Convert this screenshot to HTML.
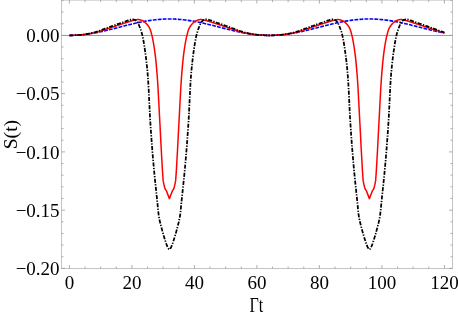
<!DOCTYPE html>
<html><head><meta charset="utf-8"><title>plot</title>
<style>
html,body{margin:0;padding:0;background:#fff;}
body{width:458px;height:316px;overflow:hidden;}
svg{display:block;}
.lbl{will-change:transform;}
text{font-family:"Liberation Serif",serif;font-size:19px;fill:#000;}
</style></head><body>
<svg width="458" height="316" viewBox="0 0 458 316">
<rect width="458" height="316" fill="#fff"/>
<g stroke="#c4c4c4" stroke-width="1" fill="none">
<rect x="61.5" y="0.1" width="391.0" height="268.4"/>
</g>
<line x1="61.5" y1="35.5" x2="452.5" y2="35.5" stroke="#9a9a9a" stroke-width="1"/>
<g stroke="#999" stroke-width="0.8" fill="none">
<line x1="69.40" y1="268.50" x2="69.40" y2="265.00"/>
<line x1="69.40" y1="0.10" x2="69.40" y2="3.60"/>
<line x1="85.03" y1="268.50" x2="85.03" y2="266.50"/>
<line x1="85.03" y1="0.10" x2="85.03" y2="2.10"/>
<line x1="100.65" y1="268.50" x2="100.65" y2="266.50"/>
<line x1="100.65" y1="0.10" x2="100.65" y2="2.10"/>
<line x1="116.28" y1="268.50" x2="116.28" y2="266.50"/>
<line x1="116.28" y1="0.10" x2="116.28" y2="2.10"/>
<line x1="131.90" y1="268.50" x2="131.90" y2="265.00"/>
<line x1="131.90" y1="0.10" x2="131.90" y2="3.60"/>
<line x1="147.53" y1="268.50" x2="147.53" y2="266.50"/>
<line x1="147.53" y1="0.10" x2="147.53" y2="2.10"/>
<line x1="163.15" y1="268.50" x2="163.15" y2="266.50"/>
<line x1="163.15" y1="0.10" x2="163.15" y2="2.10"/>
<line x1="178.78" y1="268.50" x2="178.78" y2="266.50"/>
<line x1="178.78" y1="0.10" x2="178.78" y2="2.10"/>
<line x1="194.40" y1="268.50" x2="194.40" y2="265.00"/>
<line x1="194.40" y1="0.10" x2="194.40" y2="3.60"/>
<line x1="210.03" y1="268.50" x2="210.03" y2="266.50"/>
<line x1="210.03" y1="0.10" x2="210.03" y2="2.10"/>
<line x1="225.65" y1="268.50" x2="225.65" y2="266.50"/>
<line x1="225.65" y1="0.10" x2="225.65" y2="2.10"/>
<line x1="241.28" y1="268.50" x2="241.28" y2="266.50"/>
<line x1="241.28" y1="0.10" x2="241.28" y2="2.10"/>
<line x1="256.90" y1="268.50" x2="256.90" y2="265.00"/>
<line x1="256.90" y1="0.10" x2="256.90" y2="3.60"/>
<line x1="272.52" y1="268.50" x2="272.52" y2="266.50"/>
<line x1="272.52" y1="0.10" x2="272.52" y2="2.10"/>
<line x1="288.15" y1="268.50" x2="288.15" y2="266.50"/>
<line x1="288.15" y1="0.10" x2="288.15" y2="2.10"/>
<line x1="303.77" y1="268.50" x2="303.77" y2="266.50"/>
<line x1="303.77" y1="0.10" x2="303.77" y2="2.10"/>
<line x1="319.40" y1="268.50" x2="319.40" y2="265.00"/>
<line x1="319.40" y1="0.10" x2="319.40" y2="3.60"/>
<line x1="335.02" y1="268.50" x2="335.02" y2="266.50"/>
<line x1="335.02" y1="0.10" x2="335.02" y2="2.10"/>
<line x1="350.65" y1="268.50" x2="350.65" y2="266.50"/>
<line x1="350.65" y1="0.10" x2="350.65" y2="2.10"/>
<line x1="366.27" y1="268.50" x2="366.27" y2="266.50"/>
<line x1="366.27" y1="0.10" x2="366.27" y2="2.10"/>
<line x1="381.90" y1="268.50" x2="381.90" y2="265.00"/>
<line x1="381.90" y1="0.10" x2="381.90" y2="3.60"/>
<line x1="397.52" y1="268.50" x2="397.52" y2="266.50"/>
<line x1="397.52" y1="0.10" x2="397.52" y2="2.10"/>
<line x1="413.15" y1="268.50" x2="413.15" y2="266.50"/>
<line x1="413.15" y1="0.10" x2="413.15" y2="2.10"/>
<line x1="428.77" y1="268.50" x2="428.77" y2="266.50"/>
<line x1="428.77" y1="0.10" x2="428.77" y2="2.10"/>
<line x1="444.40" y1="268.50" x2="444.40" y2="265.00"/>
<line x1="444.40" y1="0.10" x2="444.40" y2="3.60"/>
<line x1="61.50" y1="268.40" x2="65.00" y2="268.40"/>
<line x1="452.50" y1="268.40" x2="449.00" y2="268.40"/>
<line x1="61.50" y1="256.75" x2="63.50" y2="256.75"/>
<line x1="452.50" y1="256.75" x2="450.50" y2="256.75"/>
<line x1="61.50" y1="245.10" x2="63.50" y2="245.10"/>
<line x1="452.50" y1="245.10" x2="450.50" y2="245.10"/>
<line x1="61.50" y1="233.45" x2="63.50" y2="233.45"/>
<line x1="452.50" y1="233.45" x2="450.50" y2="233.45"/>
<line x1="61.50" y1="221.80" x2="63.50" y2="221.80"/>
<line x1="452.50" y1="221.80" x2="450.50" y2="221.80"/>
<line x1="61.50" y1="210.15" x2="65.00" y2="210.15"/>
<line x1="452.50" y1="210.15" x2="449.00" y2="210.15"/>
<line x1="61.50" y1="198.50" x2="63.50" y2="198.50"/>
<line x1="452.50" y1="198.50" x2="450.50" y2="198.50"/>
<line x1="61.50" y1="186.85" x2="63.50" y2="186.85"/>
<line x1="452.50" y1="186.85" x2="450.50" y2="186.85"/>
<line x1="61.50" y1="175.20" x2="63.50" y2="175.20"/>
<line x1="452.50" y1="175.20" x2="450.50" y2="175.20"/>
<line x1="61.50" y1="163.55" x2="63.50" y2="163.55"/>
<line x1="452.50" y1="163.55" x2="450.50" y2="163.55"/>
<line x1="61.50" y1="151.90" x2="65.00" y2="151.90"/>
<line x1="452.50" y1="151.90" x2="449.00" y2="151.90"/>
<line x1="61.50" y1="140.25" x2="63.50" y2="140.25"/>
<line x1="452.50" y1="140.25" x2="450.50" y2="140.25"/>
<line x1="61.50" y1="128.60" x2="63.50" y2="128.60"/>
<line x1="452.50" y1="128.60" x2="450.50" y2="128.60"/>
<line x1="61.50" y1="116.95" x2="63.50" y2="116.95"/>
<line x1="452.50" y1="116.95" x2="450.50" y2="116.95"/>
<line x1="61.50" y1="105.30" x2="63.50" y2="105.30"/>
<line x1="452.50" y1="105.30" x2="450.50" y2="105.30"/>
<line x1="61.50" y1="93.65" x2="65.00" y2="93.65"/>
<line x1="452.50" y1="93.65" x2="449.00" y2="93.65"/>
<line x1="61.50" y1="82.00" x2="63.50" y2="82.00"/>
<line x1="452.50" y1="82.00" x2="450.50" y2="82.00"/>
<line x1="61.50" y1="70.35" x2="63.50" y2="70.35"/>
<line x1="452.50" y1="70.35" x2="450.50" y2="70.35"/>
<line x1="61.50" y1="58.70" x2="63.50" y2="58.70"/>
<line x1="452.50" y1="58.70" x2="450.50" y2="58.70"/>
<line x1="61.50" y1="47.05" x2="63.50" y2="47.05"/>
<line x1="452.50" y1="47.05" x2="450.50" y2="47.05"/>
<line x1="61.50" y1="35.40" x2="65.00" y2="35.40"/>
<line x1="452.50" y1="35.40" x2="449.00" y2="35.40"/>
<line x1="61.50" y1="23.75" x2="63.50" y2="23.75"/>
<line x1="452.50" y1="23.75" x2="450.50" y2="23.75"/>
<line x1="61.50" y1="12.10" x2="63.50" y2="12.10"/>
<line x1="452.50" y1="12.10" x2="450.50" y2="12.10"/>
<line x1="61.50" y1="0.45" x2="63.50" y2="0.45"/>
<line x1="452.50" y1="0.45" x2="450.50" y2="0.45"/>
</g>
<g fill="none" stroke-linejoin="round">
<path d="M69.40 35.40 L70.96 35.39 L72.53 35.36 L74.09 35.31 L75.65 35.24 L77.21 35.15 L78.78 35.05 L80.34 34.92 L81.90 34.77 L83.46 34.61 L85.03 34.43 L86.59 34.23 L88.15 34.02 L89.71 33.78 L91.28 33.54 L92.84 33.27 L94.40 32.99 L95.96 32.70 L97.53 32.40 L99.09 32.08 L100.65 31.75 L102.21 31.41 L103.78 31.06 L105.34 30.70 L106.90 30.33 L108.46 29.95 L110.03 29.57 L111.59 29.18 L113.15 28.79 L114.71 28.39 L116.28 27.99 L117.84 27.59 L119.40 27.19 L120.96 26.78 L122.53 26.38 L124.09 25.98 L125.65 25.58 L127.21 25.19 L128.78 24.80 L130.34 24.42 L131.90 24.04 L133.46 23.68 L135.03 23.32 L136.59 22.96 L138.15 22.62 L139.71 22.29 L141.28 21.98 L142.84 21.67 L144.40 21.38 L145.96 21.10 L147.53 20.84 L149.09 20.59 L150.65 20.36 L152.21 20.14 L153.78 19.94 L155.34 19.76 L156.90 19.60 L158.46 19.45 L160.03 19.33 L161.59 19.22 L163.15 19.13 L164.71 19.06 L166.28 19.01 L167.84 18.98 L169.40 18.97 L170.96 18.98 L172.53 19.01 L174.09 19.06 L175.65 19.13 L177.21 19.22 L178.78 19.33 L180.34 19.45 L181.90 19.60 L183.46 19.76 L185.03 19.94 L186.59 20.14 L188.15 20.36 L189.71 20.59 L191.28 20.84 L192.84 21.10 L194.40 21.38 L195.96 21.67 L197.53 21.98 L199.09 22.29 L200.65 22.62 L202.21 22.96 L203.78 23.32 L205.34 23.68 L206.90 24.04 L208.46 24.42 L210.03 24.80 L211.59 25.19 L213.15 25.58 L214.71 25.98 L216.28 26.38 L217.84 26.78 L219.40 27.19 L220.96 27.59 L222.53 27.99 L224.09 28.39 L225.65 28.79 L227.21 29.18 L228.78 29.57 L230.34 29.95 L231.90 30.33 L233.46 30.70 L235.03 31.06 L236.59 31.41 L238.15 31.75 L239.71 32.08 L241.28 32.40 L242.84 32.70 L244.40 32.99 L245.96 33.27 L247.53 33.54 L249.09 33.78 L250.65 34.02 L252.21 34.23 L253.78 34.43 L255.34 34.61 L256.90 34.77 L258.46 34.92 L260.02 35.05 L261.59 35.15 L263.15 35.24 L264.71 35.31 L266.27 35.36 L267.84 35.39 L269.40 35.40 L270.96 35.39 L272.52 35.36 L274.09 35.31 L275.65 35.24 L277.21 35.15 L278.77 35.05 L280.34 34.92 L281.90 34.77 L283.46 34.61 L285.02 34.43 L286.59 34.23 L288.15 34.02 L289.71 33.78 L291.27 33.54 L292.84 33.27 L294.40 32.99 L295.96 32.70 L297.52 32.40 L299.09 32.08 L300.65 31.75 L302.21 31.41 L303.77 31.06 L305.34 30.70 L306.90 30.33 L308.46 29.95 L310.02 29.57 L311.59 29.18 L313.15 28.79 L314.71 28.39 L316.27 27.99 L317.84 27.59 L319.40 27.19 L320.96 26.78 L322.52 26.38 L324.09 25.98 L325.65 25.58 L327.21 25.19 L328.77 24.80 L330.34 24.42 L331.90 24.04 L333.46 23.68 L335.02 23.32 L336.59 22.96 L338.15 22.62 L339.71 22.29 L341.27 21.98 L342.84 21.67 L344.40 21.38 L345.96 21.10 L347.52 20.84 L349.09 20.59 L350.65 20.36 L352.21 20.14 L353.77 19.94 L355.34 19.76 L356.90 19.60 L358.46 19.45 L360.02 19.33 L361.59 19.22 L363.15 19.13 L364.71 19.06 L366.27 19.01 L367.84 18.98 L369.40 18.97 L370.96 18.98 L372.52 19.01 L374.09 19.06 L375.65 19.13 L377.21 19.22 L378.77 19.33 L380.34 19.45 L381.90 19.60 L383.46 19.76 L385.02 19.94 L386.59 20.14 L388.15 20.36 L389.71 20.59 L391.27 20.84 L392.84 21.10 L394.40 21.38 L395.96 21.67 L397.52 21.98 L399.09 22.29 L400.65 22.62 L402.21 22.96 L403.77 23.32 L405.34 23.68 L406.90 24.04 L408.46 24.42 L410.02 24.80 L411.59 25.19 L413.15 25.58 L414.71 25.98 L416.27 26.38 L417.84 26.78 L419.40 27.19 L420.96 27.59 L422.52 27.99 L424.09 28.39 L425.65 28.79 L427.21 29.18 L428.77 29.57 L430.34 29.95 L431.90 30.33 L433.46 30.70 L435.02 31.06 L436.59 31.41 L438.15 31.75 L439.71 32.08 L441.27 32.40 L442.84 32.70 L444.40 32.99" stroke="#0000ff" stroke-width="1.6" stroke-dasharray="3.8 1.2"/>
<path d="M69.40 35.40 L70.03 35.40 L70.65 35.39 L71.28 35.38 L71.90 35.36 L72.53 35.34 L73.15 35.32 L73.78 35.30 L74.40 35.27 L75.03 35.23 L75.65 35.20 L76.28 35.16 L76.90 35.12 L77.53 35.08 L78.15 35.04 L78.78 34.99 L79.40 34.95 L80.03 34.90 L80.65 34.86 L81.28 34.81 L81.90 34.76 L82.53 34.71 L83.15 34.65 L83.78 34.59 L84.40 34.52 L85.03 34.44 L85.65 34.37 L86.28 34.28 L86.90 34.19 L87.53 34.10 L88.15 34.00 L88.78 33.90 L89.40 33.79 L90.03 33.68 L90.65 33.57 L91.28 33.45 L91.90 33.34 L92.53 33.21 L93.15 33.09 L93.78 32.96 L94.40 32.84 L95.03 32.70 L95.65 32.55 L96.28 32.39 L96.90 32.22 L97.53 32.05 L98.15 31.86 L98.78 31.67 L99.40 31.47 L100.03 31.27 L100.65 31.06 L101.28 30.86 L101.90 30.65 L102.53 30.44 L103.15 30.24 L103.78 30.04 L104.40 29.84 L105.03 29.64 L105.65 29.43 L106.28 29.22 L106.90 29.01 L107.53 28.80 L108.15 28.58 L108.78 28.37 L109.40 28.16 L110.03 27.94 L110.65 27.73 L111.28 27.52 L111.90 27.31 L112.53 27.10 L113.15 26.88 L113.78 26.67 L114.40 26.46 L115.03 26.25 L115.65 26.03 L116.28 25.82 L116.90 25.61 L117.53 25.40 L118.15 25.20 L118.78 24.99 L119.40 24.78 L120.03 24.57 L120.65 24.36 L121.28 24.16 L121.90 23.95 L122.53 23.75 L123.15 23.55 L123.78 23.35 L124.40 23.15 L125.03 22.95 L125.65 22.75 L126.28 22.55 L126.90 22.35 L127.53 22.16 L128.15 21.96 L128.78 21.77 L129.40 21.57 L130.03 21.37 L130.65 21.17 L131.28 20.98 L131.90 20.79 L132.53 20.61 L133.15 20.45 L133.78 20.30 L134.40 20.14 L135.03 19.99 L135.65 19.84 L136.28 19.71 L136.90 19.62 L137.53 19.56 L138.15 19.56 L138.78 19.61 L139.40 19.71 L140.03 19.84 L140.65 20.00 L141.28 20.18 L141.90 20.38 L142.53 20.61 L143.15 20.92 L143.78 21.32 L144.40 21.79 L145.03 22.33 L145.65 22.92 L146.28 23.55 L146.90 24.20 L147.53 24.93 L148.15 25.76 L148.78 26.72 L149.40 27.82 L150.03 29.11 L150.65 30.82 L151.28 32.96 L151.90 35.40 L152.53 38.14 L153.15 41.29 L153.78 44.86 L154.40 48.87 L155.03 53.35 L155.65 58.63 L156.28 64.89 L156.90 72.08 L157.53 80.19 L158.15 90.33 L158.78 102.02 L159.40 114.13 L160.03 125.82 L160.65 137.93 L161.28 149.94 L161.90 161.01 L162.53 171.82 L163.15 180.38 L163.78 183.87 L164.40 186.61 L165.03 188.68 L165.65 190.00 L166.28 190.46 L169.40 198.62 L172.53 190.46 L173.15 190.00 L173.78 188.68 L174.40 186.61 L175.02 183.87 L175.65 180.38 L176.28 171.82 L176.90 161.01 L177.52 149.94 L178.15 137.93 L178.78 125.82 L179.40 114.13 L180.03 102.02 L180.65 90.33 L181.27 80.19 L181.90 72.08 L182.53 64.89 L183.15 58.63 L183.77 53.35 L184.40 48.87 L185.03 44.86 L185.65 41.29 L186.28 38.14 L186.90 35.40 L187.52 32.96 L188.15 30.82 L188.78 29.11 L189.40 27.82 L190.02 26.72 L190.65 25.76 L191.28 24.93 L191.90 24.20 L192.53 23.55 L193.15 22.92 L193.77 22.33 L194.40 21.79 L195.03 21.32 L195.65 20.92 L196.27 20.61 L196.90 20.38 L197.53 20.18 L198.15 20.00 L198.78 19.84 L199.40 19.71 L200.03 19.61 L200.65 19.56 L201.28 19.56 L201.90 19.62 L202.52 19.71 L203.15 19.84 L203.78 19.99 L204.40 20.14 L205.03 20.30 L205.65 20.45 L206.28 20.61 L206.90 20.79 L207.53 20.98 L208.15 21.17 L208.77 21.37 L209.40 21.57 L210.03 21.77 L210.65 21.96 L211.28 22.16 L211.90 22.35 L212.53 22.55 L213.15 22.75 L213.78 22.95 L214.40 23.15 L215.02 23.35 L215.65 23.55 L216.28 23.75 L216.90 23.95 L217.53 24.16 L218.15 24.36 L218.78 24.57 L219.40 24.78 L220.03 24.99 L220.65 25.20 L221.28 25.40 L221.90 25.61 L222.53 25.82 L223.15 26.03 L223.78 26.25 L224.40 26.46 L225.03 26.67 L225.65 26.88 L226.28 27.10 L226.90 27.31 L227.53 27.52 L228.15 27.73 L228.78 27.94 L229.40 28.16 L230.03 28.37 L230.65 28.58 L231.28 28.80 L231.90 29.01 L232.53 29.22 L233.15 29.43 L233.78 29.64 L234.40 29.84 L235.03 30.04 L235.65 30.24 L236.28 30.44 L236.90 30.65 L237.53 30.86 L238.15 31.06 L238.78 31.27 L239.40 31.47 L240.03 31.67 L240.65 31.86 L241.28 32.05 L241.90 32.22 L242.53 32.39 L243.15 32.55 L243.78 32.70 L244.40 32.84 L245.03 32.96 L245.65 33.09 L246.28 33.21 L246.90 33.34 L247.53 33.45 L248.15 33.57 L248.78 33.68 L249.40 33.79 L250.03 33.90 L250.65 34.00 L251.28 34.10 L251.90 34.19 L252.53 34.28 L253.15 34.37 L253.78 34.44 L254.40 34.52 L255.03 34.59 L255.65 34.65 L256.27 34.71 L256.90 34.76 L257.52 34.81 L258.15 34.86 L258.77 34.90 L259.40 34.95 L260.02 34.99 L260.65 35.04 L261.27 35.08 L261.90 35.12 L262.52 35.16 L263.15 35.20 L263.77 35.23 L264.40 35.27 L265.02 35.30 L265.65 35.32 L266.27 35.34 L266.90 35.36 L267.52 35.38 L268.15 35.39 L268.77 35.40 L269.40 35.40 L270.02 35.40 L270.65 35.39 L271.27 35.38 L271.90 35.36 L272.52 35.34 L273.15 35.32 L273.78 35.30 L274.40 35.27 L275.02 35.23 L275.65 35.20 L276.27 35.16 L276.90 35.12 L277.52 35.08 L278.15 35.04 L278.77 34.99 L279.40 34.95 L280.03 34.90 L280.65 34.86 L281.27 34.81 L281.90 34.76 L282.52 34.71 L283.15 34.65 L283.77 34.59 L284.40 34.52 L285.02 34.44 L285.65 34.37 L286.28 34.28 L286.90 34.19 L287.52 34.10 L288.15 34.00 L288.77 33.90 L289.40 33.79 L290.02 33.68 L290.65 33.57 L291.27 33.45 L291.90 33.34 L292.53 33.21 L293.15 33.09 L293.77 32.96 L294.40 32.84 L295.02 32.70 L295.65 32.55 L296.27 32.39 L296.90 32.22 L297.52 32.05 L298.15 31.86 L298.78 31.67 L299.40 31.47 L300.02 31.27 L300.65 31.06 L301.27 30.86 L301.90 30.65 L302.52 30.44 L303.15 30.24 L303.77 30.04 L304.40 29.84 L305.03 29.64 L305.65 29.43 L306.27 29.22 L306.90 29.01 L307.52 28.80 L308.15 28.58 L308.77 28.37 L309.40 28.16 L310.02 27.94 L310.65 27.73 L311.28 27.52 L311.90 27.31 L312.52 27.10 L313.15 26.88 L313.77 26.67 L314.40 26.46 L315.02 26.25 L315.65 26.03 L316.27 25.82 L316.90 25.61 L317.53 25.40 L318.15 25.20 L318.77 24.99 L319.40 24.78 L320.02 24.57 L320.65 24.36 L321.27 24.16 L321.90 23.95 L322.52 23.75 L323.15 23.55 L323.78 23.35 L324.40 23.15 L325.02 22.95 L325.65 22.75 L326.27 22.55 L326.90 22.35 L327.52 22.16 L328.15 21.96 L328.77 21.77 L329.40 21.57 L330.02 21.37 L330.65 21.17 L331.27 20.98 L331.90 20.79 L332.52 20.61 L333.15 20.45 L333.77 20.30 L334.40 20.14 L335.02 19.99 L335.65 19.84 L336.27 19.71 L336.90 19.62 L337.52 19.56 L338.15 19.56 L338.77 19.61 L339.40 19.71 L340.02 19.84 L340.65 20.00 L341.27 20.18 L341.90 20.38 L342.52 20.61 L343.15 20.92 L343.77 21.32 L344.40 21.79 L345.02 22.33 L345.65 22.92 L346.27 23.55 L346.90 24.20 L347.52 24.93 L348.15 25.76 L348.77 26.72 L349.40 27.82 L350.02 29.11 L350.65 30.82 L351.27 32.96 L351.90 35.40 L352.52 38.14 L353.15 41.29 L353.77 44.86 L354.40 48.87 L355.02 53.35 L355.65 58.63 L356.27 64.89 L356.90 72.08 L357.52 80.19 L358.15 90.33 L358.77 102.02 L359.40 114.13 L360.02 125.82 L360.65 137.93 L361.27 149.94 L361.90 161.01 L362.52 171.82 L363.15 180.38 L363.77 183.87 L364.40 186.61 L365.02 188.68 L365.65 190.00 L366.27 190.46 L369.40 198.62 L372.52 190.46 L373.15 190.00 L373.77 188.68 L374.40 186.61 L375.02 183.87 L375.65 180.38 L376.27 171.82 L376.90 161.01 L377.52 149.94 L378.15 137.93 L378.77 125.82 L379.40 114.13 L380.02 102.02 L380.65 90.33 L381.27 80.19 L381.90 72.08 L382.52 64.89 L383.15 58.63 L383.77 53.35 L384.40 48.87 L385.02 44.86 L385.65 41.29 L386.27 38.14 L386.90 35.40 L387.52 32.96 L388.15 30.82 L388.77 29.11 L389.40 27.82 L390.02 26.72 L390.65 25.76 L391.27 24.93 L391.90 24.20 L392.52 23.55 L393.15 22.92 L393.77 22.33 L394.40 21.79 L395.02 21.32 L395.65 20.92 L396.27 20.61 L396.90 20.38 L397.52 20.18 L398.15 20.00 L398.77 19.84 L399.40 19.71 L400.02 19.61 L400.65 19.56 L401.27 19.56 L401.90 19.62 L402.52 19.71 L403.15 19.84 L403.77 19.99 L404.40 20.14 L405.02 20.30 L405.65 20.45 L406.27 20.61 L406.90 20.79 L407.52 20.98 L408.15 21.17 L408.77 21.37 L409.40 21.57 L410.02 21.77 L410.65 21.96 L411.27 22.16 L411.90 22.35 L412.52 22.55 L413.15 22.75 L413.77 22.95 L414.40 23.15 L415.02 23.35 L415.65 23.55 L416.27 23.75 L416.90 23.95 L417.52 24.16 L418.15 24.36 L418.77 24.57 L419.40 24.78 L420.02 24.99 L420.65 25.20 L421.27 25.40 L421.90 25.61 L422.52 25.82 L423.15 26.03 L423.77 26.25 L424.40 26.46 L425.02 26.67 L425.65 26.88 L426.27 27.10 L426.90 27.31 L427.52 27.52 L428.15 27.73 L428.77 27.94 L429.40 28.16 L430.02 28.37 L430.65 28.58 L431.27 28.80 L431.90 29.01 L432.52 29.22 L433.15 29.43 L433.77 29.64 L434.40 29.84 L435.02 30.04 L435.65 30.24 L436.27 30.44 L436.90 30.65 L437.52 30.86 L438.15 31.06 L438.77 31.27 L439.40 31.47 L440.02 31.67 L440.65 31.86 L441.27 32.05 L441.90 32.22 L442.52 32.39 L443.15 32.55 L443.77 32.70 L444.40 32.84" stroke="#ff0000" stroke-width="1.5"/>
<path d="M69.40 35.40 L70.03 35.40 L70.65 35.39 L71.28 35.38 L71.90 35.36 L72.53 35.34 L73.15 35.32 L73.78 35.29 L74.40 35.26 L75.03 35.22 L75.65 35.18 L76.28 35.14 L76.90 35.10 L77.53 35.06 L78.15 35.01 L78.78 34.96 L79.40 34.91 L80.03 34.86 L80.65 34.81 L81.28 34.75 L81.90 34.70 L82.53 34.64 L83.15 34.58 L83.78 34.50 L84.40 34.42 L85.03 34.33 L85.65 34.23 L86.28 34.13 L86.90 34.02 L87.53 33.91 L88.15 33.79 L88.78 33.66 L89.40 33.53 L90.03 33.40 L90.65 33.26 L91.28 33.12 L91.90 32.97 L92.53 32.83 L93.15 32.68 L93.78 32.52 L94.40 32.37 L95.03 32.21 L95.65 32.03 L96.28 31.84 L96.90 31.64 L97.53 31.43 L98.15 31.21 L98.78 30.98 L99.40 30.75 L100.03 30.51 L100.65 30.27 L101.28 30.03 L101.90 29.80 L102.53 29.56 L103.15 29.33 L103.78 29.11 L104.40 28.89 L105.03 28.67 L105.65 28.45 L106.28 28.23 L106.90 28.01 L107.53 27.79 L108.15 27.57 L108.78 27.35 L109.40 27.12 L110.03 26.90 L110.65 26.67 L111.28 26.43 L111.90 26.19 L112.53 25.95 L113.15 25.71 L113.78 25.47 L114.40 25.24 L115.03 25.00 L115.65 24.77 L116.28 24.55 L116.90 24.33 L117.53 24.13 L118.15 23.93 L118.78 23.74 L119.40 23.55 L120.03 23.35 L120.65 23.15 L121.28 22.95 L121.90 22.73 L122.53 22.50 L123.15 22.27 L123.78 22.04 L124.40 21.80 L125.03 21.56 L125.65 21.33 L126.28 21.10 L126.90 20.88 L127.53 20.66 L128.15 20.45 L128.78 20.25 L129.40 20.05 L130.03 19.82 L130.65 19.61 L131.28 19.44 L131.90 19.34 L132.53 19.33 L133.15 19.42 L133.78 19.58 L134.40 19.78 L135.03 20.02 L135.65 20.36 L136.28 20.88 L136.90 21.52 L137.53 22.31 L138.15 23.39 L138.78 24.73 L139.40 26.23 L140.03 27.83 L140.65 29.52 L141.28 31.41 L141.90 33.57 L142.53 36.06 L143.15 39.04 L143.78 42.50 L144.40 46.38 L145.03 50.63 L145.65 55.20 L146.28 60.18 L146.90 65.83 L147.53 72.39 L148.15 80.21 L148.78 91.54 L149.40 104.89 L150.03 117.35 L150.65 127.26 L151.28 136.35 L151.90 144.81 L152.53 152.74 L153.15 160.22 L153.78 167.28 L154.40 173.87 L155.03 180.10 L155.65 186.10 L156.28 192.00 L156.90 197.91 L157.53 203.98 L158.15 210.65 L158.78 215.84 L159.40 219.30 L160.03 222.12 L160.65 224.56 L161.28 226.90 L161.90 229.30 L162.53 231.62 L163.15 233.83 L163.78 235.95 L164.40 237.98 L165.03 239.94 L165.65 241.86 L166.28 243.73 L166.90 245.44 L167.53 246.88 L168.15 248.08 L168.78 249.06 L169.40 249.41 L170.03 249.06 L170.65 248.08 L171.27 246.88 L171.90 245.44 L172.53 243.73 L173.15 241.86 L173.78 239.94 L174.40 237.98 L175.02 235.95 L175.65 233.83 L176.28 231.62 L176.90 229.30 L177.52 226.90 L178.15 224.56 L178.78 222.12 L179.40 219.30 L180.03 215.84 L180.65 210.65 L181.27 203.98 L181.90 197.91 L182.53 192.00 L183.15 186.10 L183.77 180.10 L184.40 173.87 L185.03 167.28 L185.65 160.22 L186.28 152.74 L186.90 144.81 L187.52 136.35 L188.15 127.26 L188.78 117.35 L189.40 104.89 L190.02 91.54 L190.65 80.21 L191.28 72.39 L191.90 65.83 L192.53 60.18 L193.15 55.20 L193.77 50.63 L194.40 46.38 L195.03 42.50 L195.65 39.04 L196.27 36.06 L196.90 33.57 L197.53 31.41 L198.15 29.52 L198.78 27.83 L199.40 26.23 L200.03 24.73 L200.65 23.39 L201.28 22.31 L201.90 21.52 L202.52 20.88 L203.15 20.36 L203.78 20.02 L204.40 19.78 L205.03 19.58 L205.65 19.42 L206.28 19.33 L206.90 19.34 L207.53 19.44 L208.15 19.61 L208.77 19.82 L209.40 20.05 L210.03 20.25 L210.65 20.45 L211.28 20.66 L211.90 20.88 L212.53 21.10 L213.15 21.33 L213.78 21.56 L214.40 21.80 L215.02 22.04 L215.65 22.27 L216.28 22.50 L216.90 22.73 L217.53 22.95 L218.15 23.15 L218.78 23.35 L219.40 23.55 L220.03 23.74 L220.65 23.93 L221.28 24.13 L221.90 24.33 L222.53 24.55 L223.15 24.77 L223.78 25.00 L224.40 25.24 L225.03 25.47 L225.65 25.71 L226.28 25.95 L226.90 26.19 L227.53 26.43 L228.15 26.67 L228.78 26.90 L229.40 27.12 L230.03 27.35 L230.65 27.57 L231.28 27.79 L231.90 28.01 L232.53 28.23 L233.15 28.45 L233.78 28.67 L234.40 28.89 L235.03 29.11 L235.65 29.33 L236.28 29.56 L236.90 29.80 L237.53 30.03 L238.15 30.27 L238.78 30.51 L239.40 30.75 L240.03 30.98 L240.65 31.21 L241.28 31.43 L241.90 31.64 L242.53 31.84 L243.15 32.03 L243.78 32.21 L244.40 32.37 L245.03 32.52 L245.65 32.68 L246.28 32.83 L246.90 32.97 L247.53 33.12 L248.15 33.26 L248.78 33.40 L249.40 33.53 L250.03 33.66 L250.65 33.79 L251.28 33.91 L251.90 34.02 L252.53 34.13 L253.15 34.23 L253.78 34.33 L254.40 34.42 L255.03 34.50 L255.65 34.58 L256.27 34.64 L256.90 34.70 L257.52 34.75 L258.15 34.81 L258.77 34.86 L259.40 34.91 L260.02 34.96 L260.65 35.01 L261.27 35.06 L261.90 35.10 L262.52 35.14 L263.15 35.18 L263.77 35.22 L264.40 35.26 L265.02 35.29 L265.65 35.32 L266.27 35.34 L266.90 35.36 L267.52 35.38 L268.15 35.39 L268.77 35.40 L269.40 35.40 L270.02 35.40 L270.65 35.39 L271.27 35.38 L271.90 35.36 L272.52 35.34 L273.15 35.32 L273.78 35.29 L274.40 35.26 L275.02 35.22 L275.65 35.18 L276.27 35.14 L276.90 35.10 L277.52 35.06 L278.15 35.01 L278.77 34.96 L279.40 34.91 L280.03 34.86 L280.65 34.81 L281.27 34.75 L281.90 34.70 L282.52 34.64 L283.15 34.58 L283.77 34.50 L284.40 34.42 L285.02 34.33 L285.65 34.23 L286.28 34.13 L286.90 34.02 L287.52 33.91 L288.15 33.79 L288.77 33.66 L289.40 33.53 L290.02 33.40 L290.65 33.26 L291.27 33.12 L291.90 32.97 L292.53 32.83 L293.15 32.68 L293.77 32.52 L294.40 32.37 L295.02 32.21 L295.65 32.03 L296.27 31.84 L296.90 31.64 L297.52 31.43 L298.15 31.21 L298.78 30.98 L299.40 30.75 L300.02 30.51 L300.65 30.27 L301.27 30.03 L301.90 29.80 L302.52 29.56 L303.15 29.33 L303.77 29.11 L304.40 28.89 L305.03 28.67 L305.65 28.45 L306.27 28.23 L306.90 28.01 L307.52 27.79 L308.15 27.57 L308.77 27.35 L309.40 27.12 L310.02 26.90 L310.65 26.67 L311.28 26.43 L311.90 26.19 L312.52 25.95 L313.15 25.71 L313.77 25.47 L314.40 25.24 L315.02 25.00 L315.65 24.77 L316.27 24.55 L316.90 24.33 L317.53 24.13 L318.15 23.93 L318.77 23.74 L319.40 23.55 L320.02 23.35 L320.65 23.15 L321.27 22.95 L321.90 22.73 L322.52 22.50 L323.15 22.27 L323.78 22.04 L324.40 21.80 L325.02 21.56 L325.65 21.33 L326.27 21.10 L326.90 20.88 L327.52 20.66 L328.15 20.45 L328.77 20.25 L329.40 20.05 L330.02 19.82 L330.65 19.61 L331.27 19.44 L331.90 19.34 L332.52 19.33 L333.15 19.42 L333.77 19.58 L334.40 19.78 L335.02 20.02 L335.65 20.36 L336.27 20.88 L336.90 21.52 L337.52 22.31 L338.15 23.39 L338.77 24.73 L339.40 26.23 L340.02 27.83 L340.65 29.52 L341.27 31.41 L341.90 33.57 L342.52 36.06 L343.15 39.04 L343.77 42.50 L344.40 46.38 L345.02 50.63 L345.65 55.20 L346.27 60.18 L346.90 65.83 L347.52 72.39 L348.15 80.21 L348.77 91.54 L349.40 104.89 L350.02 117.35 L350.65 127.26 L351.27 136.35 L351.90 144.81 L352.52 152.74 L353.15 160.22 L353.77 167.28 L354.40 173.87 L355.02 180.10 L355.65 186.10 L356.27 192.00 L356.90 197.91 L357.52 203.98 L358.15 210.65 L358.77 215.84 L359.40 219.30 L360.02 222.12 L360.65 224.56 L361.27 226.90 L361.90 229.30 L362.52 231.62 L363.15 233.83 L363.77 235.95 L364.40 237.98 L365.02 239.94 L365.65 241.86 L366.27 243.73 L366.90 245.44 L367.52 246.88 L368.15 248.08 L368.77 249.06 L369.40 249.41 L370.02 249.06 L370.65 248.08 L371.27 246.88 L371.90 245.44 L372.52 243.73 L373.15 241.86 L373.77 239.94 L374.40 237.98 L375.02 235.95 L375.65 233.83 L376.27 231.62 L376.90 229.30 L377.52 226.90 L378.15 224.56 L378.77 222.12 L379.40 219.30 L380.02 215.84 L380.65 210.65 L381.27 203.98 L381.90 197.91 L382.52 192.00 L383.15 186.10 L383.77 180.10 L384.40 173.87 L385.02 167.28 L385.65 160.22 L386.27 152.74 L386.90 144.81 L387.52 136.35 L388.15 127.26 L388.77 117.35 L389.40 104.89 L390.02 91.54 L390.65 80.21 L391.27 72.39 L391.90 65.83 L392.52 60.18 L393.15 55.20 L393.77 50.63 L394.40 46.38 L395.02 42.50 L395.65 39.04 L396.27 36.06 L396.90 33.57 L397.52 31.41 L398.15 29.52 L398.77 27.83 L399.40 26.23 L400.02 24.73 L400.65 23.39 L401.27 22.31 L401.90 21.52 L402.52 20.88 L403.15 20.36 L403.77 20.02 L404.40 19.78 L405.02 19.58 L405.65 19.42 L406.27 19.33 L406.90 19.34 L407.52 19.44 L408.15 19.61 L408.77 19.82 L409.40 20.05 L410.02 20.25 L410.65 20.45 L411.27 20.66 L411.90 20.88 L412.52 21.10 L413.15 21.33 L413.77 21.56 L414.40 21.80 L415.02 22.04 L415.65 22.27 L416.27 22.50 L416.90 22.73 L417.52 22.95 L418.15 23.15 L418.77 23.35 L419.40 23.55 L420.02 23.74 L420.65 23.93 L421.27 24.13 L421.90 24.33 L422.52 24.55 L423.15 24.77 L423.77 25.00 L424.40 25.24 L425.02 25.47 L425.65 25.71 L426.27 25.95 L426.90 26.19 L427.52 26.43 L428.15 26.67 L428.77 26.90 L429.40 27.12 L430.02 27.35 L430.65 27.57 L431.27 27.79 L431.90 28.01 L432.52 28.23 L433.15 28.45 L433.77 28.67 L434.40 28.89 L435.02 29.11 L435.65 29.33 L436.27 29.56 L436.90 29.80 L437.52 30.03 L438.15 30.27 L438.77 30.51 L439.40 30.75 L440.02 30.98 L440.65 31.21 L441.27 31.43 L441.90 31.64 L442.52 31.84 L443.15 32.03 L443.77 32.21 L444.40 32.37" stroke="#000" stroke-width="1.75" stroke-dasharray="4.1 1.4 1.3 1.4"/>
</g>
<g class="lbl">
<text x="69.40" y="288.6" text-anchor="middle">0</text>
<text x="131.90" y="288.6" text-anchor="middle">20</text>
<text x="194.40" y="288.6" text-anchor="middle">40</text>
<text x="256.90" y="288.6" text-anchor="middle">60</text>
<text x="319.40" y="288.6" text-anchor="middle">80</text>
<text x="381.90" y="288.6" text-anchor="middle">100</text>
<text x="444.40" y="288.6" text-anchor="middle">120</text>
<text x="59.6" y="42.00" text-anchor="end">0.00</text>
<text x="59.6" y="100.25" text-anchor="end">−0.05</text>
<text x="59.6" y="158.50" text-anchor="end">−0.10</text>
<text x="59.6" y="216.75" text-anchor="end">−0.15</text>
<text x="59.6" y="275.00" text-anchor="end">−0.20</text>
<text transform="translate(256.3,311.7) scale(0.85,1.06)" text-anchor="middle">Γt</text>
<text transform="translate(16.6,134.6) rotate(-90) scale(1.03,0.96)" text-anchor="middle">S(t)</text>
</g>
</svg>
</body></html>
